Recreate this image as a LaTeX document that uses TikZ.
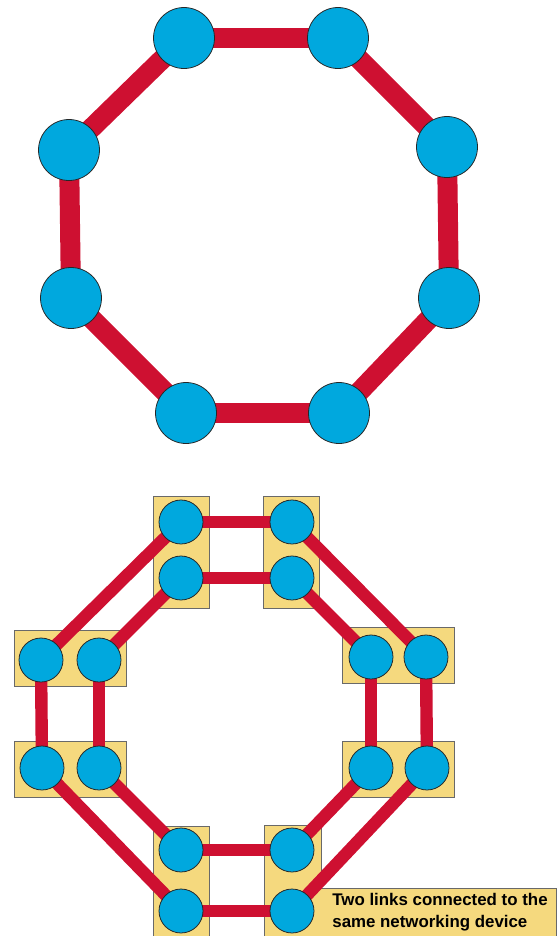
\documentclass[tikz,border=0pt]{standalone}
\usepackage{fontspec}
\setmainfont{Liberation Sans}
\usepackage{tikz}
\usetikzlibrary{positioning,backgrounds}
\usepackage{xcolor}
\definecolor{linkred}{RGB}{206,16,49}
\definecolor{nodeblue}{RGB}{0,168,222}
\definecolor{boxyellow}{RGB}{245,217,126}
\definecolor{boxgray}{RGB}{105,105,105}
\pgfdeclarelayer{boxes}
\pgfdeclarelayer{links}
\pgfsetlayers{boxes,links,main}

\begin{document}
\begin{tikzpicture}[x=0.05cm,y=-0.05cm,
  bignode/.style={circle,draw=black!85,line width=1.1pt,fill=nodeblue,
    minimum size=3.05cm,inner sep=0pt},
  smallnode/.style={circle,draw=black!85,line width=1.1pt,fill=nodeblue,
    minimum size=2.2cm,inner sep=0pt},
  devbox/.style={rectangle,draw=boxgray,fill=boxyellow,line width=1pt,inner sep=0pt},
  tallbox/.style={devbox,minimum width=2.8cm,minimum height=5.6cm},
  widebox/.style={devbox,minimum width=5.6cm,minimum height=2.8cm},
  biglink/.style={linkred,line width=1cm},
  smalllink/.style={linkred,line width=0.62cm}]
\useasboundingbox (0,0) rectangle (559,936);

% single ring
\node[bignode] (a1) at (184,38) {};
\node[bignode] (a2) at (338,38) {};
\node[bignode] (a3) at (447,147) {};
\node[bignode] (a4) at (449,298) {};
\node[bignode] (a5) at (339,413) {};
\node[bignode] (a6) at (186,413) {};
\node[bignode] (a7) at (71,298) {};
\node[bignode] (a8) at (69,150) {};
\begin{pgfonlayer}{links}
\foreach \i/\j in {1/2,2/3,3/4,4/5,5/6,6/7,7/8,8/1}
  \draw[biglink] (a\i.center) -- (a\j.center);
\end{pgfonlayer}

% dual ring, two ports per device
\node[smallnode] (p1) at (181,522) {};
\node[smallnode] (p2) at (181,578) {};
\node[smallnode] (q1) at (292,522) {};
\node[smallnode] (q2) at (292,578) {};
\node[smallnode] (r1) at (371,657) {};
\node[smallnode] (r2) at (426,657) {};
\node[smallnode] (s1) at (371,768) {};
\node[smallnode] (s2) at (427,768) {};
\node[smallnode] (u1) at (41,660) {};
\node[smallnode] (u2) at (99,660) {};
\node[smallnode] (v1) at (42,768) {};
\node[smallnode] (v2) at (99,768) {};
\node[smallnode] (w1) at (181,850) {};
\node[smallnode] (w2) at (181,911) {};
\node[smallnode] (z1) at (292,850) {};
\node[smallnode] (z2) at (292,911) {};

\begin{pgfonlayer}{boxes}
\node[tallbox] (dTL) at (181,552) {};
\node[tallbox] (dTR) at (291.5,552) {};
\node[widebox] (dRU) at (398,655) {};
\node[widebox] (dRL) at (398,769) {};
\node[widebox] (dLU) at (70,658) {};
\node[widebox] (dLL) at (70,769) {};
\node[tallbox] (dBL) at (181,882) {};
\draw[boxgray,fill=boxyellow,line width=1pt]
  (264,825) -- (321,825) -- (321,888) -- (556,888) -- (556,945) -- (264,945) -- cycle;
\end{pgfonlayer}

\begin{pgfonlayer}{links}
\foreach \i/\j in {p1/q1,p2/q2,u1/p1,u2/p2,q1/r2,q2/r1,r1/s1,r2/s2,
                   u1/v1,u2/v2,s2/z2,s1/z1,v1/w2,v2/w1,w1/z1,w2/z2}
  \draw[smalllink] (\i.center) -- (\j.center);
\end{pgfonlayer}

\node[font=\bfseries\fontsize{24}{31}\selectfont,align=left,inner sep=0pt]
  (note) at (440,912) {Two links connected to the\\same networking device};
\end{tikzpicture}
\end{document}
